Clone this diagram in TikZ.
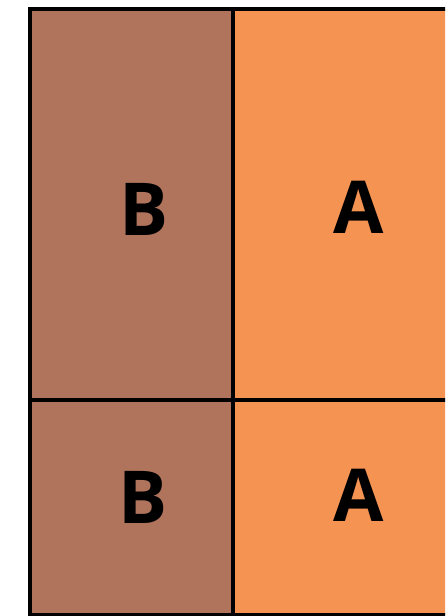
\documentclass[tikz,border=0pt]{standalone}
\usepackage{fontspec}
\setmainfont{Open Sans}[BoldFont={Open Sans Bold}]
\usepackage{xcolor}
\usepackage{tikz}
\definecolor{brownB}{RGB}{176,116,92}
\definecolor{orangeA}{RGB}{245,147,82}
\begin{document}
\begin{tikzpicture}[
  x=1pt, y=1pt,
  letter/.style={inner sep=0pt, font=\fontsize{73}{73}\selectfont\bfseries, text=black},
  grid/.style={draw=black, line width=3.2pt}
]
\useasboundingbox (0,0) rectangle (445,616);
\clip (0,0) rectangle (445,616);
\fill[brownB] (30,1.2) rectangle (233,607);
\fill[orangeA] (233,1.2) rectangle (460,607);
\draw[grid] (460,607) -- (30,607) -- (30,1.2) -- (460,1.2);
\draw[grid] (233,607) -- (233,1.2);
\draw[grid] (30,216) -- (460,216);
\node (topB) [letter] at (144,407) {B};
\node (topA) [letter] at (358.5,409) {A};
\node (botB) [letter] at (143.5,118.5) {B};
\node (botA) [letter] at (359,121) {A};
\end{tikzpicture}
\end{document}
